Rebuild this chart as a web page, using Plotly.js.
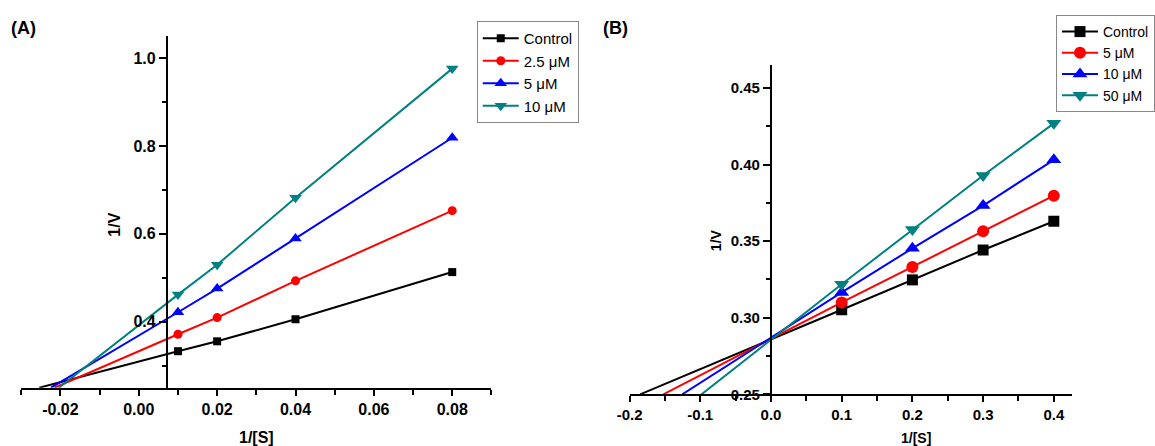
<!DOCTYPE html>
<html>
<head>
<meta charset="utf-8">
<script src="https://cdn.plot.ly/plotly-3.0.1.min.js"></script>
<style>html,body{margin:0;padding:0;background:#fff;}#chart{width:1155px;height:446px;}</style>
</head>
<body>
<div id="chart"></div>
<script>
// ---------- Data: panel (A) ----------
const xA = [0.01, 0.02, 0.04, 0.08];
const namesA = ['Control', '2.5 μM', '5 μM', '10 μM'];
const controlA = [0.333, 0.3555, 0.4057, 0.513];
const inh25A = [0.3715, 0.4094, 0.493, 0.6527];
const inh5A = [0.4216, 0.4755, 0.5895, 0.8185];
const inh10A = [0.4618, 0.5295, 0.6823, 0.9758];
const interceptA = [-0.0254, -0.0215, -0.0224, -0.0204]; // where each line meets 1/V = 0.25
const baseA = 0.25;
const xTickValsA = [-0.02, 0, 0.02, 0.04, 0.06, 0.08];
const xTickTextA = ['-0.02', '0.00', '0.02', '0.04', '0.06', '0.08'];
const yTickValsA = [0.4, 0.6, 0.8, 1.0];
const yTickTextA = ['0.4', '0.6', '0.8', '1.0'];

// ---------- Data: panel (B) ----------
const xB = [0.1, 0.2, 0.3, 0.4];
const namesB = ['Control', '5 μM', '10 μM', '50 μM'];
const controlB = [0.3052, 0.3247, 0.3442, 0.363];
const inh5B = [0.310, 0.3331, 0.3565, 0.3797];
const inh10B = [0.3165, 0.3453, 0.3732, 0.4031];
const inh50B = [0.3219, 0.3576, 0.3929, 0.4269];
const interceptB = [-0.185, -0.1522, -0.1254, -0.0982];
const baseB = 0.25;
const xTickValsB = [-0.2, -0.1, 0, 0.1, 0.2, 0.3, 0.4];
const xTickTextB = ['-0.2', '-0.1', '0.0', '0.1', '0.2', '0.3', '0.4'];
const yTickValsB = [0.25, 0.30, 0.35, 0.40, 0.45];
const yTickTextB = ['0.25', '0.30', '0.35', '0.40', '0.45'];

// ---------- Styles ----------
const colors = ['#000000', '#FF0000', '#0000FF', '#008080'];
const symbols = ['square', 'circle', 'triangle-up', 'triangle-down'];
const sizesA = [8, 9, 11, 11];
const sizesB = [11, 12, 13, 13];
const FONT = 'Liberation Sans, Arial, Helvetica, sans-serif';

const seriesA = [controlA, inh25A, inh5A, inh10A];
const seriesB = [controlB, inh5B, inh10B, inh50B];

const traces = [];
seriesA.forEach((ys, i) => {
  traces.push({
    x: [interceptA[i], xA[0]], y: [baseA, ys[0]], type: 'scatter', mode: 'lines',
    xaxis: 'x', yaxis: 'y', showlegend: false, hoverinfo: 'skip',
    line: {color: colors[i], width: 2}
  });
});
seriesA.forEach((ys, i) => {
  traces.push({
    x: xA, y: ys, name: namesA[i], type: 'scatter', mode: 'lines+markers',
    xaxis: 'x', yaxis: 'y', legend: 'legend',
    line: {color: colors[i], width: 2},
    marker: {symbol: symbols[i], size: sizesA[i], color: colors[i]},
    cliponaxis: false
  });
});
seriesB.forEach((ys, i) => {
  traces.push({
    x: [interceptB[i], xB[0]], y: [baseB, ys[0]], type: 'scatter', mode: 'lines',
    xaxis: 'x2', yaxis: 'y2', showlegend: false, hoverinfo: 'skip',
    line: {color: colors[i], width: 2}
  });
});
seriesB.forEach((ys, i) => {
  traces.push({
    x: xB, y: ys, name: namesB[i], type: 'scatter', mode: 'lines+markers',
    xaxis: 'x2', yaxis: 'y2', legend: 'legend2',
    line: {color: colors[i], width: 2},
    marker: {symbol: symbols[i], size: sizesB[i], color: colors[i]},
    cliponaxis: false
  });
});

const W = 1155, H = 446;
const px = v => v / W, py = v => 1 - v / H;

function xAxis(domain, range, tv, tt, minorD, anchor, size) {
  return {
    domain: domain, range: range, anchor: anchor,
    showline: true, linecolor: '#000', linewidth: 2,
    ticks: 'outside', ticklen: 6, tickwidth: 2, tickcolor: '#000',
    tickmode: 'array', tickvals: tv, ticktext: tt,
    minor: {dtick: minorD, ticks: 'outside', ticklen: 5, tickwidth: 2, tickcolor: '#000', showgrid: false},
    showgrid: false, zeroline: false,
    tickfont: {family: FONT, size: size, color: '#000', weight: 'bold'}
  };
}
function yAxis(domain, range, tv, tt, minorD, pos, size) {
  return {
    domain: domain, range: range, anchor: 'free', position: pos,
    showline: true, linecolor: '#000', linewidth: 2,
    ticks: 'outside', ticklen: 7, tickwidth: 2, tickcolor: '#000',
    tickmode: 'array', tickvals: tv, ticktext: tt,
    minor: {dtick: minorD, ticks: 'outside', ticklen: 4, tickwidth: 2, tickcolor: '#000', showgrid: false},
    showgrid: false, zeroline: false,
    tickfont: {family: FONT, size: size, color: '#000', weight: 'bold'}
  };
}

const layout = {
  width: W, height: H,
  margin: {l: 0, r: 0, t: 0, b: 0, pad: 0},
  paper_bgcolor: '#fff', plot_bgcolor: 'rgba(0,0,0,0)',
  showlegend: true,
  xaxis: xAxis([px(21.3), px(492.7)], [-0.03, 0.09], xTickValsA, xTickTextA, 0.01, 'y', 16),
  yaxis: yAxis([py(387.7), py(36)], [0.25, 1.05], yTickValsA, yTickTextA, 0.1, px(167.3), 16),
  xaxis2: xAxis([px(631.2), px(1075)], [-0.2, 0.426], xTickValsB, xTickTextB, 0.05, 'y2', 15),
  yaxis2: yAxis([py(394.3), py(65)], [0.25, 0.465], yTickValsB, yTickTextB, 0.025, px(772.9), 15),
  legend: {
    x: px(478), y: py(21), xanchor: 'left', yanchor: 'top',
    bgcolor: '#fff', bordercolor: '#888', borderwidth: 1, itemwidth: 36,
    font: {family: FONT, size: 15, color: '#000'}, tracegroupgap: 0
  },
  legend2: {
    x: px(1059), y: py(15), xanchor: 'left', yanchor: 'top',
    bgcolor: '#fff', bordercolor: '#888', borderwidth: 1, itemwidth: 36,
    font: {family: FONT, size: 14, color: '#000'}, tracegroupgap: 0
  },
  annotations: [
    {text: '(A)', xref: 'paper', yref: 'paper', x: px(9), y: py(27.5), xanchor: 'left', yanchor: 'middle', showarrow: false,
     font: {family: FONT, size: 18, color: '#000', weight: 'bold'}},
    {text: '(B)', xref: 'paper', yref: 'paper', x: px(603), y: py(27.5), xanchor: 'left', yanchor: 'middle', showarrow: false,
     font: {family: FONT, size: 18, color: '#000', weight: 'bold'}},
    {text: '1/[S]', xref: 'paper', yref: 'paper', x: px(257), y: py(437), xanchor: 'center', yanchor: 'middle', showarrow: false,
     font: {family: FONT, size: 16, color: '#000', weight: 'bold'}},
    {text: '1/V', xref: 'paper', yref: 'paper', x: px(114), y: py(225), xanchor: 'center', yanchor: 'middle', showarrow: false, textangle: -90,
     font: {family: FONT, size: 16, color: '#000', weight: 'bold'}},
    {text: '1/[S]', xref: 'paper', yref: 'paper', x: px(918), y: py(438), xanchor: 'center', yanchor: 'middle', showarrow: false,
     font: {family: FONT, size: 14, color: '#000', weight: 'bold'}},
    {text: '1/V', xref: 'paper', yref: 'paper', x: px(718), y: py(240), xanchor: 'center', yanchor: 'middle', showarrow: false, textangle: -90,
     font: {family: FONT, size: 14, color: '#000', weight: 'bold'}}
  ]
};

Plotly.newPlot('chart', traces, layout, {staticPlot: true, displayModeBar: false});
</script>
</body>
</html>
